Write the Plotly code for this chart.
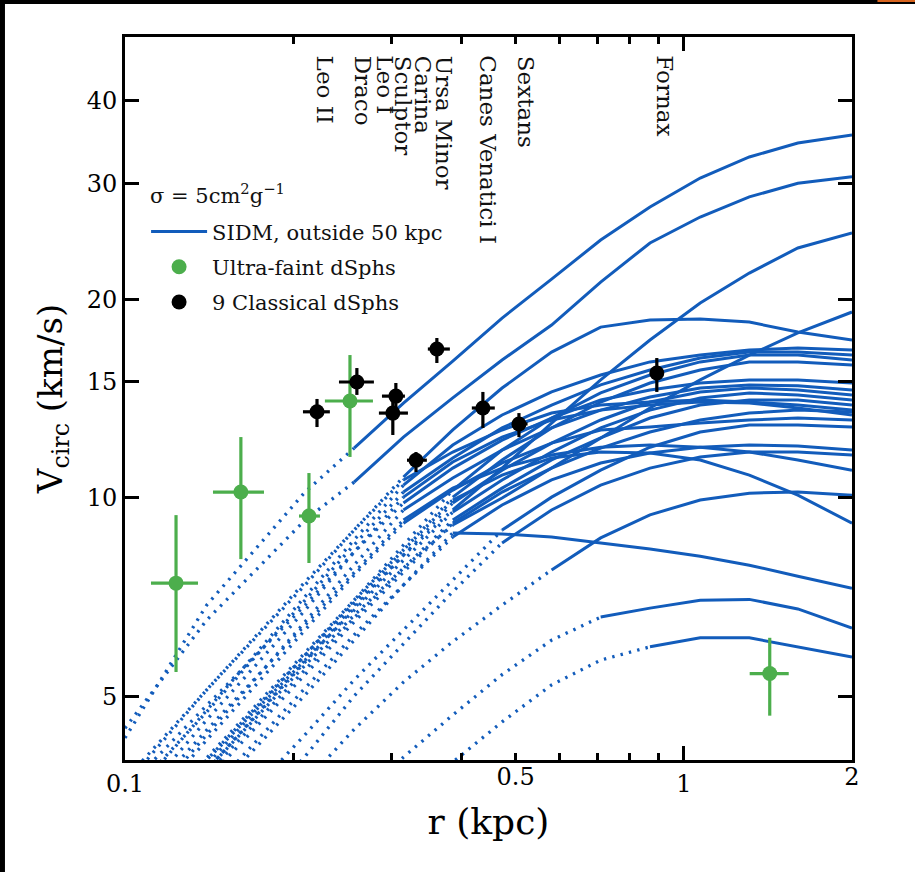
import numpy as np
import plotly.graph_objects as go

# ---------------- data ----------------
R_GRID = [0.1, 0.14, 0.21, 0.257, 0.315, 0.386, 0.473, 0.58, 0.71, 0.87, 1.07, 1.31, 1.6, 2.0]

v_T1 = [4.32, 6.87, 10.20, 11.89, 13.92, 16.12, 18.73, 21.46, 24.60, 27.61, 30.55, 32.88, 34.53, 35.5]
v_T2 = [4.47, 6.52, 9.25, 10.56, 12.36, 14.17, 16.18, 18.28, 21.24, 24.35, 26.66, 28.6, 30.0, 30.7]
v_T3 = [2.92, 3.86, 5.67, 6.87, 8.18, 9.58, 11.09, 12.98, 15.09, 17.35, 19.74, 21.92, 23.93, 25.22]
v_R1 = [2.87, 3.86, 5.57, 6.63, 7.82, 9.09, 9.99, 11.09, 12.32, 13.68, 15.09, 16.46, 17.78, 19.13]
v_P1 = [3.73, 5.11, 7.37, 8.93, 10.75, 12.67, 14.67, 16.63, 18.15, 18.60, 18.67, 18.47, 17.84, 17.35]
v_Q1 = [3.42, 4.76, 7.06, 8.63, 10.45, 12.02, 13.35, 14.47, 15.35, 16.07, 16.46, 16.75, 16.87, 16.75]
v_Q2 = [3.48, 4.73, 6.99, 8.48, 10.20, 11.49, 12.76, 13.82, 14.83, 15.62, 16.29, 16.63, 16.63, 16.46]
v_Q3 = [3.02, 4.00, 5.77, 6.99, 8.48, 10.27, 11.81, 13.21, 14.42, 15.35, 16.07, 16.46, 16.46, 16.18]
v_Q4 = [2.92, 3.93, 5.77, 6.92, 8.33, 10.02, 11.41, 12.76, 13.97, 14.93, 15.62, 16.07, 16.07, 15.90]
v_Q5 = [3.60, 4.84, 6.87, 8.27, 9.82, 11.09, 12.23, 13.21, 14.07, 14.57, 14.93, 15.09, 15.09, 14.93]
v_Q6 = [3.13, 4.37, 6.48, 7.90, 9.58, 10.71, 11.81, 12.76, 13.58, 14.22, 14.67, 14.83, 14.78, 14.57]
v_Q7 = [2.82, 3.86, 5.63, 6.80, 8.18, 9.82, 11.01, 12.10, 13.12, 13.97, 14.47, 14.67, 14.57, 14.32]
v_Q8 = [2.97, 4.00, 5.67, 6.75, 8.04, 9.51, 10.64, 11.73, 12.76, 13.58, 14.17, 14.42, 14.32, 14.07]
v_Q9 = [3.66, 5.11, 7.45, 8.93, 10.64, 11.73, 12.67, 13.44, 13.82, 13.97, 14.07, 13.97, 13.82, 13.58]
v_Q10 = [2.82, 3.80, 5.48, 6.57, 7.82, 9.25, 10.34, 11.41, 12.32, 13.21, 13.82, 14.07, 14.07, 13.82]
v_Q11 = [3.08, 4.29, 6.30, 7.63, 9.15, 10.27, 11.29, 12.10, 12.67, 12.80, 12.98, 13.12, 13.21, 13.12]
v_Q12 = [2.29, 3.02, 4.37, 5.29, 6.30, 7.50, 8.93, 10.02, 11.01, 11.93, 12.58, 12.89, 12.89, 12.80]
v_Q13 = [2.05, 2.80, 4.05, 5.00, 6.00, 7.20, 8.54, 9.58, 10.45, 11.09, 11.53, 11.73, 11.73, 11.61]
v_Q14 = [3.30, 4.60, 6.75, 8.27, 10.02, 11.33, 12.36, 13.12, 13.58, 13.82, 13.97, 13.92, 13.68, 13.35]
v_Q15 = [2.72, 3.73, 5.39, 6.48, 7.71, 9.15, 10.20, 11.09, 11.89, 12.58, 13.12, 13.44, 13.58, 13.49]
v_D1 = [2.97, 4.03, 5.83, 6.99, 8.33, 9.92, 10.82, 11.49, 11.73, 11.69, 11.41, 10.82, 10.09, 9.15]
v_D2 = [3.24, 4.44, 6.41, 7.71, 9.25, 10.34, 11.09, 11.61, 11.93, 12.02, 11.93, 11.73, 11.41, 11.01]
v_D3 = [2.63, 3.54, 5.14, 6.19, 7.37, 8.72, 9.75, 10.64, 11.29, 11.69, 11.93, 12.02, 11.98, 11.81]
v_L0 = [1.95, 2.60, 3.70, 4.45, 5.25, 6.05, 6.87, 7.77, 8.69, 9.42, 9.92, 10.16, 10.20, 10.09]
v_L1 = [2.54, 3.48, 5.02, 6.08, 7.37, 8.84, 8.81, 8.72, 8.54, 8.36, 8.15, 7.90, 7.60, 7.29]
v_L2 = [1.50, 1.99, 2.82, 3.42, 4.04, 4.68, 5.39, 6.08, 6.59, 6.80, 6.99, 7.01, 6.78, 6.34]
v_L3 = [0.86, 1.22, 1.91, 2.45, 3.13, 3.97, 4.57, 5.20, 5.67, 5.94, 6.13, 6.13, 5.94, 5.73]

SIDM_CURVES = [v_T1, v_T2, v_T3, v_R1, v_P1, v_Q1, v_Q2, v_Q3, v_Q4, v_Q5, v_Q6, v_Q7,
               v_Q8, v_Q9, v_Q10, v_Q11, v_Q12, v_Q13, v_Q14, v_Q15, v_D1, v_D2, v_D3,
               v_L0, v_L1, v_L2, v_L3]
# index in R_GRID where each curve becomes resolved (solid)
SOLID_FROM = [3, 3, 5, 5, 4, 4, 4, 5, 5, 4, 4, 5, 5, 4, 5, 4, 6, 6, 4, 5, 5, 4, 5, 7, 5, 8, 9]

# classical dSphs
cl_names = ["Leo II", "Draco", "Sculptor", "Leo I", "Carina", "Ursa Minor",
            "Canes Venatici I", "Sextans", "Fornax"]
cl_r = [0.2206, 0.260, 0.3053, 0.3015, 0.3317, 0.3615, 0.437, 0.507, 0.8948]
cl_v = [13.5, 14.98, 14.26, 13.44, 11.4, 16.81, 13.68, 12.94, 15.46]
cl_r_lo = [0.2082, 0.2415, 0.2883, 0.2847, 0.3196, 0.3483, 0.4175, 0.4945, 0.885]
cl_r_hi = [0.2326, 0.2789, 0.3169, 0.3209, 0.3469, 0.3814, 0.4590, 0.5253, 0.905]
cl_v_lo = [12.80, 14.32, 13.60, 12.45, 10.94, 16.01, 12.76, 12.36, 14.47]
cl_v_hi = [14.12, 15.73, 14.93, 14.16, 11.73, 17.47, 14.47, 13.44, 16.29]

# ultra-faint dSphs
uf_r = [0.1234, 0.1612, 0.2134, 0.2527, 1.425]
uf_v = [7.42, 10.20, 9.38, 14.02, 5.41]
uf_r_lo = [0.1113, 0.1437, 0.2048, 0.2279, 1.312]
uf_r_hi = [0.1351, 0.1773, 0.2233, 0.2778, 1.541]
uf_v_lo = [5.44, 8.07, 7.96, 11.53, 4.67]
uf_v_hi = [9.41, 12.36, 10.90, 16.46, 6.13]

# galaxy labels along the top
lab_names = ["Leo II", "Draco", "Leo I", "Sculptor", "Carina", "Ursa Minor",
             "Canes Venatici I", "Sextans", "Fornax"]
lab_r = [0.228, 0.2666, 0.2918, 0.3144, 0.3413, 0.3736, 0.446, 0.5236, 0.9247]

# ---------------- style ----------------
BLUE = "#125cbb"
GREEN = "#4cae4c"
FONT = "DejaVu Serif"

fig = go.Figure()

first = True
for vals, s in zip(SIDM_CURVES, SOLID_FROM):
    fig.add_trace(go.Scatter(x=R_GRID[:s + 1], y=vals[:s + 1], mode="lines",
                             line=dict(color=BLUE, width=3.3, dash="2.4px,6.2px"),
                             showlegend=False, hoverinfo="skip"))
    fig.add_trace(go.Scatter(x=R_GRID[s:], y=vals[s:], mode="lines",
                             line=dict(color=BLUE, width=3),
                             name="SIDM, outside 50 kpc", legendgroup="a",
                             showlegend=first, hoverinfo="skip"))
    first = False


def errs(c, lo, hi):
    c = np.array(c); lo = np.array(lo); hi = np.array(hi)
    return hi - c, c - lo


ux_p, ux_m = errs(uf_r, uf_r_lo, uf_r_hi)
uy_p, uy_m = errs(uf_v, uf_v_lo, uf_v_hi)
fig.add_trace(go.Scatter(
    x=uf_r, y=uf_v, mode="markers", name="Ultra-faint dSphs", legendgroup="b",
    marker=dict(color=GREEN, size=15),
    error_x=dict(type="data", symmetric=False, array=ux_p, arrayminus=ux_m,
                 color=GREEN, thickness=3.2, width=0),
    error_y=dict(type="data", symmetric=False, array=uy_p, arrayminus=uy_m,
                 color=GREEN, thickness=3.2, width=0)))

cx_p, cx_m = errs(cl_r, cl_r_lo, cl_r_hi)
cy_p, cy_m = errs(cl_v, cl_v_lo, cl_v_hi)
fig.add_trace(go.Scatter(
    x=cl_r, y=cl_v, mode="markers", name="9 Classical dSphs", legendgroup="c",
    text=cl_names, marker=dict(color="black", size=15),
    error_x=dict(type="data", symmetric=False, array=cx_p, arrayminus=cx_m,
                 color="black", thickness=3.2, width=0),
    error_y=dict(type="data", symmetric=False, array=cy_p, arrayminus=cy_m,
                 color="black", thickness=3.2, width=0)))

# invisible trace that carries the secondary (label-only) x axis
fig.add_trace(go.Scatter(x=[0.5], y=[5], xaxis="x2", mode="markers",
                         marker=dict(opacity=0), showlegend=False, hoverinfo="skip"))

for name, r in zip(lab_names, lab_r):
    fig.add_annotation(x=np.log10(r), y=0.977, xref="x", yref="paper", text=name,
                       textangle=90, showarrow=False, xanchor="center", yanchor="top",
                       font=dict(family=FONT, size=23, color="#111"))

fig.add_annotation(x=0.032, y=0.783, xref="paper", yref="paper",
                   text="σ = 5cm<sup>2</sup>g<sup>−1</sup>", showarrow=False,
                   xanchor="left", yanchor="middle",
                   font=dict(family=FONT, size=21, color="#111"))

# dark screenshot border strips seen in the reference
fig.add_shape(type="rect", xref="paper", yref="paper", x0=-0.175, x1=-0.1651,
              y0=-0.16, y1=1.06, fillcolor="black", line_width=0, layer="above")
fig.add_shape(type="rect", xref="paper", yref="paper", x0=-0.175, x1=1.09,
              y0=1.0456, y1=1.06, fillcolor="black", line_width=0, layer="above")
fig.add_shape(type="rect", xref="paper", yref="paper", x0=1.035, x1=1.09,
              y0=1.0484, y1=1.06, fillcolor="#d8641e", line_width=0, layer="above")

tickfont = dict(family=FONT, size=24, color="black")
fig.update_layout(
    width=915, height=872,
    margin=dict(l=125, r=63, t=37, b=112),
    paper_bgcolor="white", plot_bgcolor="white",
    showlegend=True,
    legend=dict(x=0.029, y=0.759, xanchor="left", yanchor="top",
                bgcolor="rgba(0,0,0,0)", font=dict(family=FONT, size=21, color="#111"),
                itemwidth=56, tracegroupgap=5),
    xaxis=dict(type="log", range=[-1, np.log10(2)], tickvals=[0.1, 1], ticktext=["0.1", "1"],
               ticks="inside", ticklen=14, tickwidth=2.5, tickcolor="black",
               showline=True, linecolor="black", linewidth=3, mirror="ticks",
               showgrid=False, zeroline=False, tickfont=tickfont,
               minor=dict(tickmode="array", tickvals=[0.2, 0.3, 0.4, 0.5, 0.6, 0.7, 0.8, 0.9, 2.0],
                          ticks="inside", ticklen=7, tickwidth=2.5, tickcolor="black", showgrid=False),
               title=dict(text="r (kpc)", font=dict(family=FONT, size=36, color="black"), standoff=13)),
    xaxis2=dict(type="log", range=[-1, np.log10(2)], overlaying="x", anchor="y", side="bottom",
                tickvals=[0.5, 2], ticktext=["0.5", "2"], ticks="", showline=False,
                showgrid=False, zeroline=False, tickfont=tickfont),
    yaxis=dict(type="log", range=[np.log10(4), np.log10(50)],
               tickvals=[5, 10, 15, 20, 30, 40], ticktext=["5", "10", "15", "20", "30", "40"],
               ticks="inside", ticklen=14, tickwidth=2.5, tickcolor="black",
               showline=True, linecolor="black", linewidth=3, mirror="ticks",
               showgrid=False, zeroline=False, tickfont=tickfont,
               title=dict(text="V<sub>circ</sub> (km/s)", font=dict(family=FONT, size=34, color="black"),
                          standoff=14)),
)

fig.write_html("out.html")
